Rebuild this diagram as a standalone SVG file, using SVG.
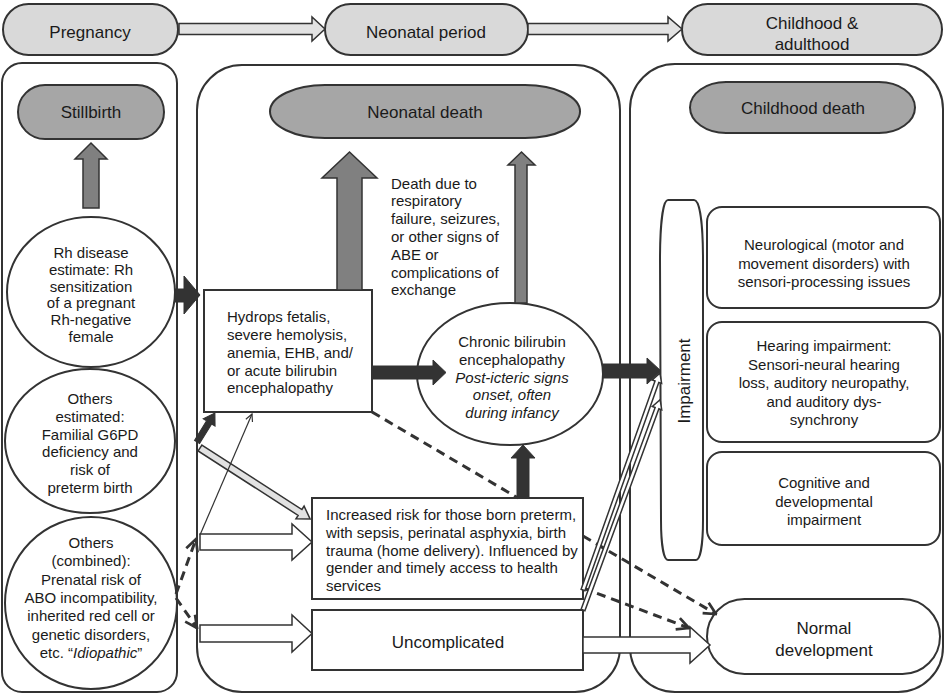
<svg xmlns="http://www.w3.org/2000/svg" width="946" height="695" viewBox="0 0 946 695">
<defs>
<style>
.pn{fill:#fff;stroke:#333;stroke-width:2}
.lt{fill:#d9d9d9;stroke:#333;stroke-width:2}
.dk{fill:#a6a6a6;stroke:#333;stroke-width:2}
.bx{fill:#fff;stroke:#333;stroke-width:2}
.t{font-family:"Liberation Sans",Arial,Helvetica,sans-serif;font-size:15px;fill:#1a1a1a}
.L{font-size:17px}
.c{text-anchor:middle}
.it{font-style:italic}
.ga{fill:#808080;stroke:#333;stroke-width:1.5}
.ba{fill:#333;stroke:#333;stroke-width:1}
.wa{fill:#fff;stroke:#333;stroke-width:1.5}
.la{fill:#e2e2e2;stroke:#333;stroke-width:1.5}
.da{fill:none;stroke:#333;stroke-width:3;stroke-dasharray:9 6}
.th{fill:none;stroke:#333;stroke-width:1.2}
</style>
<marker id="vd" viewBox="0 0 10 10" refX="9" refY="5" markerWidth="5" markerHeight="5" orient="auto" markerUnits="strokeWidth">
<path d="M1,1 L9,5 L1,9" fill="none" stroke="#333" stroke-width="1.8"/>
</marker>
<marker id="vt" viewBox="0 0 10 10" refX="9" refY="5" markerWidth="9" markerHeight="9" orient="auto" markerUnits="userSpaceOnUse">
<path d="M1,1 L9,5 L1,9" fill="none" stroke="#333" stroke-width="1.3"/>
</marker>
</defs>
<rect width="946" height="695" fill="#fff"/>

<!-- top timeline -->
<g id="pregnancy"><rect class="lt" x="3" y="4" width="175" height="51" rx="25.5"/><text class="t L c" x="90" y="38">Pregnancy</text></g>
<g id="neonatal-period"><rect class="lt" x="325" y="4" width="203" height="51" rx="25.5"/><text class="t L c" x="426" y="38">Neonatal period</text></g>
<g id="childhood-adulthood"><rect class="lt" x="682" y="4" width="260" height="51" rx="25.5"/><text class="t L c" x="812" y="29">Childhood &amp;</text><text class="t L c" x="812" y="50">adulthood</text></g>

<!-- panels -->
<g id="panel-pregnancy"><rect class="pn" x="2" y="63" width="175" height="629" rx="20"/></g>
<g id="panel-neonatal"><rect class="pn" x="197" y="65" width="423" height="627" rx="45"/></g>
<g id="panel-childhood"><rect class="pn" x="630" y="64" width="313" height="628" rx="45"/></g>

<!-- pregnancy nodes -->
<g id="stillbirth"><rect class="dk" x="18" y="85" width="146" height="54" rx="27"/><text class="t L c" x="91" y="118">Stillbirth</text></g>
<g id="rh-disease"><ellipse class="bx" cx="91" cy="292" rx="84" ry="75"/>
<text class="t c" x="91" y="258">Rh disease</text><text class="t c" x="91" y="275">estimate: Rh</text><text class="t c" x="91" y="292">sensitization</text><text class="t c" x="91" y="308">of a pregnant</text><text class="t c" x="91" y="325">Rh-negative</text><text class="t c" x="91" y="342">female</text></g>
<g id="others-estimated"><ellipse class="bx" cx="90" cy="441" rx="85" ry="72"/>
<text class="t c" x="90" y="404">Others</text><text class="t c" x="90" y="422">estimated:</text><text class="t c" x="90" y="440">Familial G6PD</text><text class="t c" x="90" y="457">deficiency and</text><text class="t c" x="90" y="475">risk of</text><text class="t c" x="90" y="493">preterm birth</text></g>
<g id="others-combined"><ellipse class="bx" cx="91" cy="603" rx="86" ry="86"/>
<text class="t c" x="91" y="548">Others</text><text class="t c" x="91" y="566">(combined):</text><text class="t c" x="91" y="585">Prenatal risk of</text><text class="t c" x="91" y="603">ABO incompatibility,</text><text class="t c" x="91" y="621">inherited red cell or</text><text class="t c" x="91" y="640">genetic disorders,</text><text class="t c" x="91" y="658">etc. “<tspan class="it">Idiopathic</tspan>”</text></g>

<!-- neonatal nodes -->
<g id="neonatal-death"><rect class="dk" x="270" y="85" width="310" height="53" rx="55" ry="26.5"/><text class="t L c" x="425" y="118">Neonatal death</text></g>
<g id="death-note"><text class="t" x="391" y="188.5">Death due to</text><text class="t" x="391" y="206.3">respiratory</text><text class="t" x="391" y="224.1">failure, seizures,</text><text class="t" x="391" y="241.9">or other signs of</text><text class="t" x="391" y="259.7">ABE or</text><text class="t" x="391" y="277.5">complications of</text><text class="t" x="391" y="295.3">exchange</text></g>
<g id="hydrops"><rect class="bx" x="204" y="290" width="168" height="122"/>
<text class="t" x="227" y="322">Hydrops fetalis,</text><text class="t" x="227" y="340">severe hemolysis,</text><text class="t" x="227" y="358">anemia, EHB, and/</text><text class="t" x="227" y="376">or acute bilirubin</text><text class="t" x="227" y="393">encephalopathy</text></g>
<g id="chronic"><ellipse class="bx" cx="510" cy="374" rx="93" ry="71"/>
<text class="t c" x="512" y="347">Chronic bilirubin</text><text class="t c" x="512" y="365">encephalopathy</text><text class="t c it" x="512" y="383">Post-icteric signs</text><text class="t c it" x="512" y="400">onset, often</text><text class="t c it" x="512" y="418">during infancy</text></g>
<g id="increased-risk"><rect class="bx" x="312" y="498" width="271" height="101"/>
<text class="t" x="326" y="520">Increased risk for those born preterm,</text><text class="t" x="326" y="538">with sepsis, perinatal asphyxia, birth</text><text class="t" x="326" y="556">trauma (home delivery). Influenced by</text><text class="t" x="326" y="573">gender and timely access to health</text><text class="t" x="326" y="591">services</text></g>
<g id="uncomplicated"><rect class="bx" x="312" y="610" width="271" height="60"/><text class="t L c" x="448" y="648">Uncomplicated</text></g>

<!-- childhood nodes -->
<g id="childhood-death"><rect class="dk" x="690" y="82" width="225" height="51" rx="36" ry="25.5"/><text class="t L c" x="803" y="114">Childhood death</text></g>
<g id="impairment"><path class="bx" d="M668,200 L694,200 C700,200 703,225 703,260 L703,520 C703,545 700,560 696,560 L668,560 C664,560 661,545 661,520 L660,260 C660,225 663,200 668,200 Z"/>
<text class="t L c" transform="translate(690,381) rotate(-90)" x="0" y="0">Impairment</text></g>
<g id="neurological"><rect class="bx" x="707" y="207" width="233" height="101" rx="15"/>
<text class="t c" x="824" y="250">Neurological (motor and</text><text class="t c" x="824" y="268.5">movement disorders) with</text><text class="t c" x="824" y="287">sensori-processing issues</text></g>
<g id="hearing"><rect class="bx" x="707" y="322" width="233" height="120" rx="15"/>
<text class="t c" x="824" y="351">Hearing impairment:</text><text class="t c" x="824" y="369.5">Sensori-neural hearing</text><text class="t c" x="824" y="388">loss, auditory neuropathy,</text><text class="t c" x="824" y="406.5">and auditory dys-</text><text class="t c" x="824" y="425">synchrony</text></g>
<g id="cognitive"><rect class="bx" x="707" y="452" width="233" height="93" rx="15"/>
<text class="t c" x="824" y="488">Cognitive and</text><text class="t c" x="824" y="506.5">developmental</text><text class="t c" x="824" y="524.5">impairment</text></g>
<g id="normal-development"><rect class="bx" x="707" y="599" width="233" height="75" rx="37.5"/>
<text class="t L c" x="824" y="634">Normal</text><text class="t L c" x="824" y="656">development</text></g>

<!-- connectors -->
<g id="connectors">
<polygon class="la" points="179,23.5 312,23.5 312,17 325,29 312,41 312,34.5 179,34.5"/>
<polygon class="la" points="528,23.5 668,23.5 668,17 682,29 668,41 668,34.5 528,34.5"/>
<polygon class="ga" points="83,208 83,159 75,159 91,143 107,159 99,159 99,208"/>
<polygon class="ba" points="175,289 184,289 184,276 200,295 184,314 184,302 175,302"/>
<polygon class="ga" points="337,290 337,178 322,178 349.5,152 377,178 362,178 362,290"/>
<polygon class="ga" points="515,303 515,165 508,165 521.5,152 535,165 527,165 527,303"/>
<polygon class="ba" points="373,366 433,366 433,360 446,372.5 433,385 433,379 373,379"/>
<polygon class="ba" points="603,364 647,364 647,358 661,371 647,384 647,378 603,378"/>
<path class="da" d="M372,412 L518,498 M583,536 L716,614" marker-end="url(#vd)"/>
<path class="da" d="M583,588 L689,628" marker-end="url(#vd)"/>
<polygon class="ba" points="517,498 517,458 511,458 523,445 535,458 529,458 529,498"/>
<polygon class="ba" transform="translate(197,442) rotate(-58.2)" points="0,-3 23,-3 23,-7 34,0 23,7 23,3 0,3"/>
<polygon class="la" transform="translate(200,448) rotate(32.8)" points="0,-3.5 119,-3.5 119,-7.5 131,0 119,7.5 119,3.5 0,3.5"/>
<line class="th" x1="200" y1="535" x2="252" y2="414" marker-end="url(#vt)"/>
<path class="da" d="M176,594 L196,539" marker-end="url(#vd)"/>
<path class="da" d="M176,598 L197,628" marker-end="url(#vd)"/>
<polygon class="wa" points="200,534 292,534 292,524 312,542 292,560 292,550 200,550"/>
<polygon class="wa" points="200,625 292,625 292,615 312,633.5 292,652 292,642 200,642"/>
<polygon class="wa" transform="translate(583,590) rotate(-70.46)" points="0,-2 221,-2 221,-5 230,0 221,5 221,2 0,2"/>
<polygon class="wa" transform="translate(583,610) rotate(-69.86)" points="0,-2 215,-2 215,-5 224,0 215,5 215,2 0,2"/>
<polygon class="wa" points="583,637 690,637 690,627 710,645 690,663 690,653 583,653"/>
</g>
</svg>
